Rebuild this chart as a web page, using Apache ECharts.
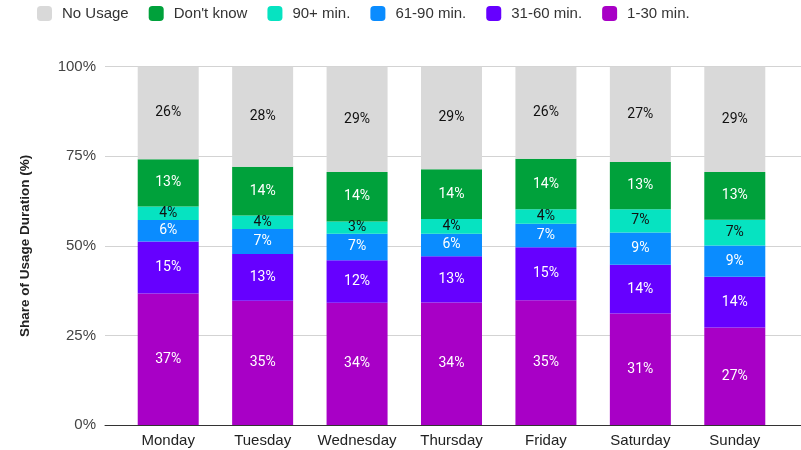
<!DOCTYPE html>
<html>
<head>
<meta charset="utf-8">
<script src="https://cdn.jsdelivr.net/npm/echarts@6/dist/echarts.min.js"></script>
<style>html,body{margin:0;padding:0;background:#fff}#c{width:801px;height:450px}</style>
</head>
<body>
<div id="c"></div>
<script>
const days = ['Monday','Tuesday','Wednesday','Thursday','Friday','Saturday','Sunday'];
const yTicks = [0, 25, 50, 75, 100];
const min1to30   = [36.7, 34.7, 34.1, 34.2, 34.8, 31.1, 27.2];
const min31to60  = [14.5, 13.0, 11.9, 12.9, 14.8, 13.6, 14.2];
const min61to90  = [6.0, 7.0, 7.4, 6.3, 6.6, 9.0, 8.7];
const min90plus  = [3.8, 3.8, 3.4, 4.1, 4.0, 6.5, 7.2];
const dontKnow   = [13.2, 13.6, 13.8, 13.9, 14.1, 13.2, 13.3];
const noUsage    = [25.8, 27.9, 29.4, 28.6, 25.7, 26.6, 29.4];

const seriesDefs = [
  {name:'1-30 min.', data:min1to30, color:'#a800c6', text:'#ffffff'},
  {name:'31-60 min.', data:min31to60, color:'#6600ff', text:'#ffffff'},
  {name:'61-90 min.', data:min61to90, color:'#0a8cff', text:'#ffffff'},
  {name:'90+ min.', data:min90plus, color:'#06e3c1', text:'#111111'},
  {name:"Don't know", data:dontKnow, color:'#00a13b', text:'#ffffff'},
  {name:'No Usage', data:noUsage, color:'#d9d9d9', text:'#111111'}
];

const chart = echarts.init(document.getElementById('c'));
chart.setOption({
  animation:false,
  textStyle:{fontFamily:'Liberation Sans, Arial, Helvetica, sans-serif'},
  legend:{
    left:37, top:6, padding:0,
    icon:'roundRect',
    itemWidth:15, itemHeight:15, itemGap:20,
    textStyle:{fontSize:15, color:'#333', padding:[0,0,0,5], fontFamily:'Liberation Sans, Arial, sans-serif'},
    data:['No Usage',"Don't know",'90+ min.','61-90 min.','31-60 min.','1-30 min.']
  },
  grid:[
    {left:105, right:0, top:66.7, bottom:25},
    {left:121, right:19, top:66.7, bottom:25}
  ],
  xAxis:[
    {gridIndex:0, type:'value', min:0, max:1, axisLine:{show:true, onZero:false, lineStyle:{color:'#333', width:1}}, axisTick:{show:false}, axisLabel:{show:false}, splitLine:{show:false}},
    {gridIndex:1, type:'category', data:days, axisLine:{show:false}, axisTick:{show:false},
     axisLabel:{interval:0, fontSize:15, color:'#222', margin:8, fontFamily:'Liberation Sans, Arial, sans-serif'}}
  ],
  yAxis:[
    {gridIndex:0, type:'value', min:yTicks[0], max:yTicks[yTicks.length-1], interval:25,
     name:'Share of Usage Duration (%)', nameLocation:'middle', nameGap:73, nameRotate:90,
     nameTextStyle:{fontSize:13.5, fontWeight:'bold', color:'#222', fontFamily:'Liberation Sans, Arial, sans-serif'},
     axisLine:{show:false}, axisTick:{show:false},
     axisLabel:{formatter:'{value}%', fontSize:15, color:'#444', margin:9, fontFamily:'Liberation Sans, Arial, sans-serif'},
     splitLine:{lineStyle:{color:'#d3d3d3', width:1}}},
    {gridIndex:1, type:'value', min:0, max:100, show:false}
  ],
  series: seriesDefs.map(s => ({
    name:s.name, type:'bar', stack:'total', xAxisIndex:1, yAxisIndex:1,
    data:s.data, barWidth:61,
    itemStyle:{color:s.color},
    label:{show:true, position:'inside', color:s.text, fontSize:14, fontFamily:'Roboto, sans-serif',
      formatter:p => Math.round(p.value) + '%'}
  }))
});
</script>
</body>
</html>
